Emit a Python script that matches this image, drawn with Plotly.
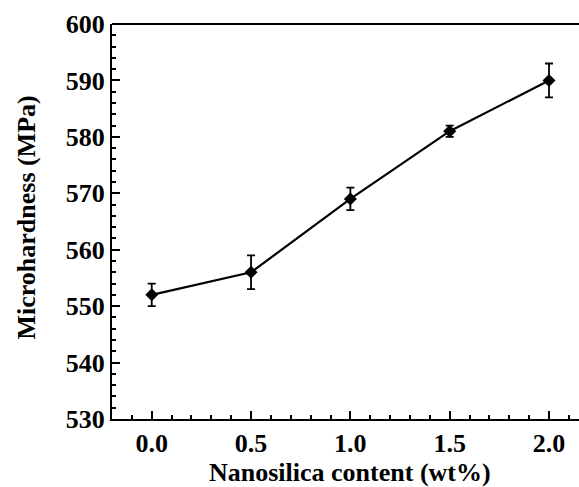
import plotly.graph_objects as go

content = [0.0, 0.5, 1.0, 1.5, 2.0]
hardness = [552, 556, 569, 581, 590]
err = [2, 3, 2, 1, 3]
x_ticks = [0.0, 0.5, 1.0, 1.5, 2.0]
x_tick_labels = ["0.0", "0.5", "1.0", "1.5", "2.0"]
y_ticks = [530, 540, 550, 560, 570, 580, 590, 600]
x_title = "Nanosilica content (wt%)"
y_title = "Microhardness (MPa)"

font_family = "Liberation Serif"

fig = go.Figure()
fig.add_trace(go.Scatter(
    x=content, y=hardness,
    mode="lines+markers",
    line=dict(color="black", width=2.2),
    marker=dict(symbol="diamond", size=10, color="black"),
    error_y=dict(type="data", array=err, visible=True, color="black", thickness=1.8, width=4),
    showlegend=False,
))

fig.add_shape(type="line", xref="paper", yref="paper", x0=0, x1=1.01, y0=1, y1=1,
              line=dict(color="black", width=2.2))

fig.add_annotation(text="<b>" + x_title + "</b>", xref="x", yref="paper", x=1.0, y=0,
                   xanchor="center", yanchor="middle", yshift=-53, showarrow=False, borderpad=0,
                   font=dict(size=26, family=font_family, color="black"))
fig.add_annotation(text="<b>" + y_title + "</b>", xref="paper", yref="paper", x=0, y=0.51,
                   xanchor="center", yanchor="middle", xshift=-85, textangle=-90, showarrow=False,
                   borderpad=0, font=dict(size=26, family=font_family, color="black"))

fig.update_layout(
    width=579, height=487,
    margin=dict(l=112, r=0, t=24, b=68, autoexpand=False),
    paper_bgcolor="white", plot_bgcolor="white",
    font=dict(family=font_family, color="black"),
    xaxis=dict(
        range=[-0.2, 2.151],
        tickvals=x_ticks, ticktext=x_tick_labels,
        ticks="inside", ticklen=8, tickwidth=2, tickcolor="black",
        minor=dict(dtick=0.1, ticks="inside", ticklen=4, tickwidth=1.5, tickcolor="black"),
        showline=True, linecolor="black", linewidth=2.2, mirror=False,
        showgrid=False, zeroline=False, automargin=False,
        tickfont=dict(size=26, family=font_family, weight="bold"),
    ),
    yaxis=dict(
        range=[530, 600],
        tickvals=y_ticks,
        ticks="inside", ticklen=8, tickwidth=2, tickcolor="black",
        minor=dict(dtick=2, ticks="inside", ticklen=4, tickwidth=1.5, tickcolor="black"),
        showline=True, linecolor="black", linewidth=2.2, mirror=False,
        showgrid=False, zeroline=False, automargin=False,
        tickfont=dict(size=26, family=font_family, weight="bold"),
    ),
)

fig.write_html("out.html")
